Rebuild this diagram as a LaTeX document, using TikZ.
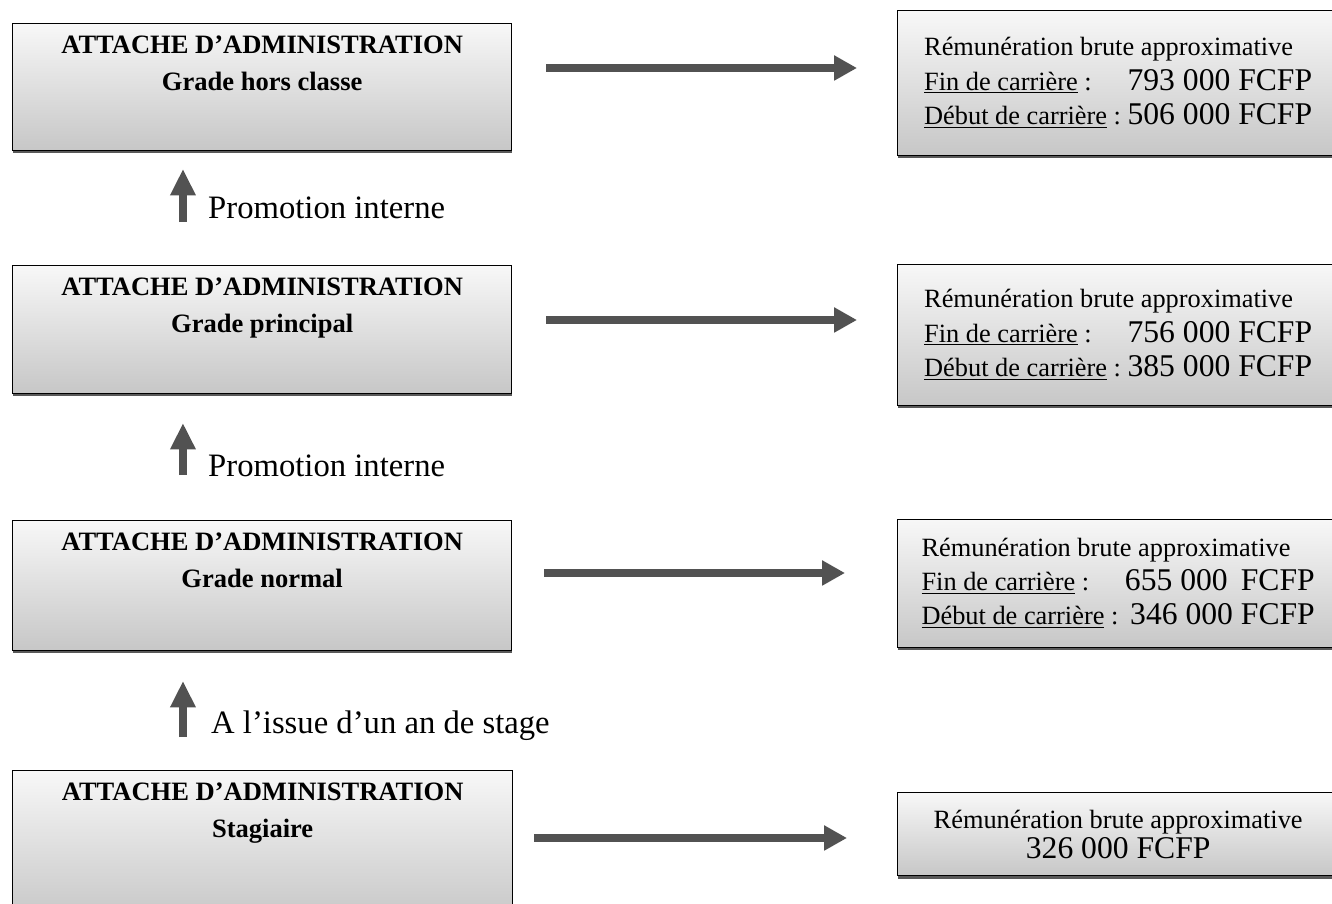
\documentclass[tikz,border=0pt]{standalone}
\usepackage{fontspec}
\setmainfont{Liberation Serif}
\usetikzlibrary{arrows.meta,shadows}

\tikzset{
  grade/.style={draw=black,thick,anchor=north west,align=center,
    top color=black!3,bottom color=black!22,
    drop shadow={shadow xshift=0pt,shadow yshift=-1.6pt,fill=black!65,opacity=1},
    minimum width=9.98cm,inner ysep=7pt,
    font=\fontsize{15.1pt}{21pt}\selectfont\bfseries},
  salaire/.style={grade,minimum width=8.82cm,inner ysep=3pt,
    font=\fontsize{15pt}{19.5pt}\selectfont},
  flow/.style={draw=black!68,line width=4.4pt,-{Triangle[length=13pt,width=13.5pt]}},
  upflow/.style={draw=black!68,line width=5pt,-{Triangle[length=15pt,width=13.6pt]}},
  passage/.style={font=\fontsize{18.6pt}{20pt}\selectfont,anchor=west}
}
\newcommand{\amt}[1]{{\fontsize{18pt}{19.5pt}\selectfont #1}}

\begin{document}
\begin{tikzpicture}[x=0.02cm,y=-0.02cm]
\useasboundingbox (0,0) rectangle (1332,903);

% grades
\node[grade] (g1) at (12,23) {ATTACHE D’ADMINISTRATION\\Grade hors classe\rule[-27pt]{0pt}{27pt}};
\node[grade] (g2) at (12,265) {ATTACHE D’ADMINISTRATION\\Grade principal\rule[-27.6pt]{0pt}{27.6pt}};
\node[grade] (g3) at (12,520) {ATTACHE D’ADMINISTRATION\\Grade normal\rule[-28.7pt]{0pt}{28.7pt}};
\node[grade,minimum width=10cm] (g4) at (12,770) {ATTACHE D’ADMINISTRATION\\Stagiaire\rule[-40pt]{0pt}{40pt}};

% remunerations
\node[salaire,minimum height=2.9cm] (r1) at (897,10) {\begin{tabular}{@{}l@{\ }r@{}}
  \multicolumn{2}{@{}l@{}}{Rémunération brute approximative}\\
  \underline{Fin de carrière} : & \amt{793 000 FCFP}\\
  \underline{Début de carrière} : & \amt{506 000 FCFP}
\end{tabular}};
\node[salaire,minimum height=2.82cm] (r2) at (897,264) {\begin{tabular}{@{}l@{\ }r@{}}
  \multicolumn{2}{@{}l@{}}{Rémunération brute approximative}\\
  \underline{Fin de carrière} : & \amt{756 000 FCFP}\\
  \underline{Début de carrière} : & \amt{385 000 FCFP}
\end{tabular}};
\node[salaire,minimum height=2.56cm] (r3) at (897,519) {\begin{tabular}{@{}l@{\ }r@{}}
  \multicolumn{2}{@{}l@{}}{Rémunération brute approximative}\\
  \underline{Fin de carrière} : & \amt{655 000 \,FCFP}\\
  \underline{Début de carrière} : & \amt{346 000 FCFP}
\end{tabular}};
\node[salaire,minimum height=1.66cm,font=\fontsize{15pt}{17pt}\selectfont] (r4) at (897,792)
  {Rémunération brute approximative\\\amt{326 000 FCFP}};

% fleches horizontales
\draw[flow,shorten <=0.68cm,shorten >=0.8cm] ([yshift=-0.9cm]g1.north east) coordinate (a1) -- (a1 -| r1.west);
\draw[flow,shorten <=0.68cm,shorten >=0.8cm] ([yshift=-1.1cm]g2.north east) coordinate (a2) -- (a2 -| r2.west);
\draw[flow,shorten <=0.64cm,shorten >=1.04cm] ([yshift=-1.06cm]g3.north east) coordinate (a3) -- (a3 -| r3.west);
\draw[flow,shorten <=0.42cm,shorten >=1cm] ([yshift=-1.36cm]g4.north east) coordinate (a4) -- (a4 -| r4.west);

% avancement
\draw[upflow,shorten <=0.86cm,shorten >=0.36cm] ([xshift=3.42cm]g2.north west) -- ([xshift=3.42cm]g1.south west)
  node[passage,pos=0.5,right=0.3cm] (p1) {Promotion interne};
\draw[upflow,shorten <=0.9cm,shorten >=0.58cm] ([xshift=3.42cm]g3.north west) -- ([xshift=3.42cm]g2.south west)
  node[passage,pos=0.43,right=0.3cm] (p2) {Promotion interne};
\draw[upflow,shorten <=0.66cm,shorten >=0.6cm] ([xshift=3.42cm]g4.north west) -- ([xshift=3.42cm]g3.south west)
  node[passage,pos=0.375,right=0.36cm] (p3) {A l’issue d’un an de stage};

\end{tikzpicture}
\end{document}
